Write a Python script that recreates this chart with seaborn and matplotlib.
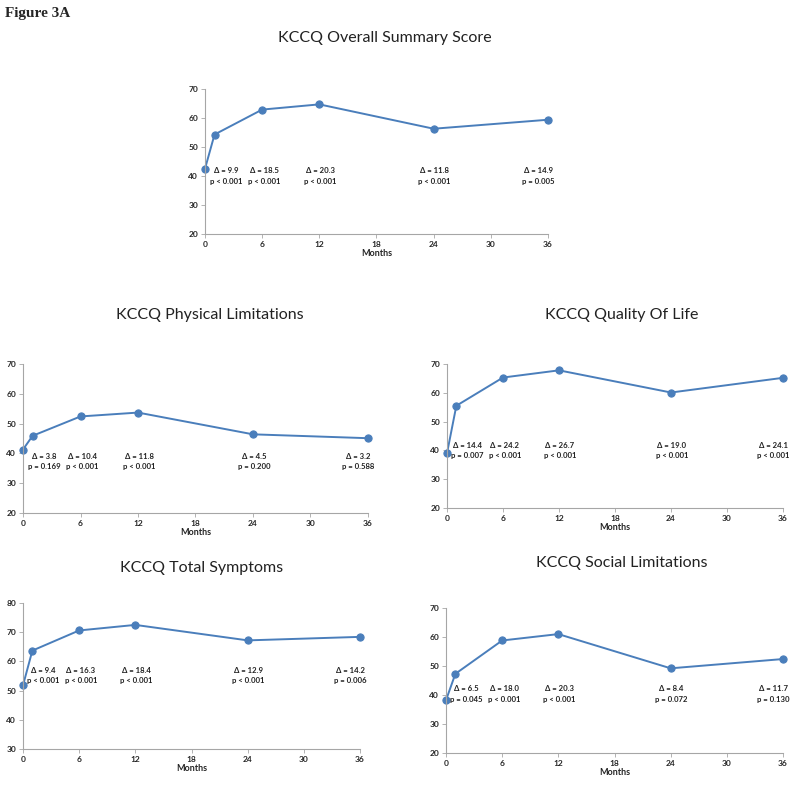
import matplotlib
matplotlib.use("Agg")
import matplotlib.pyplot as plt
import seaborn as sns
import pandas as pd

months = [0, 1, 6, 12, 24, 36]

titles = ["KCCQ Overall Summary Score", "KCCQ Physical Limitations",
          "KCCQ Quality Of Life", "KCCQ Total Symptoms", "KCCQ Social Limitations"]

overall = [42.5, 54.3, 62.9, 64.7, 56.3, 59.4]
physical = [41.3, 45.9, 52.4, 53.7, 46.4, 45.1]
qol = [39.0, 55.5, 65.3, 67.8, 60.1, 65.2]
symptoms = [51.8, 63.7, 70.6, 72.5, 67.2, 68.4]
social = [38.2, 47.3, 58.8, 61.0, 49.2, 52.4]

overall_delta = ["9.9", "18.5", "20.3", "11.8", "14.9"]
overall_p = ["p < 0.001", "p < 0.001", "p < 0.001", "p < 0.001", "p = 0.005"]
physical_delta = ["3.8", "10.4", "11.8", "4.5", "3.2"]
physical_p = ["p = 0.169", "p < 0.001", "p < 0.001", "p = 0.200", "p = 0.588"]
qol_delta = ["14.4", "24.2", "26.7", "19.0", "24.1"]
qol_p = ["p = 0.007", "p < 0.001", "p < 0.001", "p < 0.001", "p < 0.001"]
symptoms_delta = ["9.4", "16.3", "18.4", "12.9", "14.2"]
symptoms_p = ["p < 0.001", "p < 0.001", "p < 0.001", "p < 0.001", "p = 0.006"]
social_delta = ["6.5", "18.0", "20.3", "8.4", "11.7"]
social_p = ["p = 0.045", "p < 0.001", "p < 0.001", "p = 0.072", "p = 0.130"]

ylims = [(20, 70), (20, 70), (20, 70), (30, 80), (20, 70)]
xticks = [0, 6, 12, 18, 24, 30, 36]

sns.set_theme(style="white")
plt.rcParams['font.family'] = ['Lato', 'DejaVu Sans']

fig = plt.figure(figsize=(8, 7.88), dpi=100)

# axes rectangles in pixels: left, top, right, bottom
rects_px = [(205, 89, 548, 234), (23, 364, 368, 513), (447, 364, 783, 508),
            (23, 603, 360, 749), (446, 608, 783, 753)]
title_px = [(385, 38), (210, 315), (622, 315), (202, 568), (622, 563)]
ann_y = [41.8, 39.1, 41.8, 57.0, 42.1]

series = [overall, physical, qol, symptoms, social]
deltas = [overall_delta, physical_delta, qol_delta, symptoms_delta, social_delta]
pvals = [overall_p, physical_p, qol_p, symptoms_p, social_p]

W, H = 800, 788
blue = "#4A7EBB"
ann_x = [2.2, 6.2, 12.1, 24.1, 35.0]

for i in range(5):
    l, t, r, b = rects_px[i]
    ax = fig.add_axes([l / W, 1 - b / H, (r - l) / W, (b - t) / H])
    df = pd.DataFrame({"Months": months, "Score": series[i]})
    sns.lineplot(data=df, x="Months", y="Score", ax=ax, color=blue, marker="o",
                 markersize=5.2, markeredgecolor=blue, linewidth=1.4, clip_on=False)
    ax.set_xlim(0, 36)
    ax.set_ylim(*ylims[i])
    ax.set_xticks(xticks)
    ax.set_yticks(range(ylims[i][0], ylims[i][1] + 1, 10))
    ax.set_xlabel("Months", fontsize=6.5, fontweight="bold", labelpad=1)
    ax.set_ylabel("")
    for s in ["top", "right"]:
        ax.spines[s].set_visible(False)
    for s in ["left", "bottom"]:
        ax.spines[s].set_color("#A6A6A6")
        ax.spines[s].set_linewidth(0.8)
    ax.tick_params(axis="both", which="major", length=3, width=0.6, color="#A6A6A6",
                   labelsize=6, pad=2, direction="out", bottom=True, left=True)
    for lab in ax.get_xticklabels() + ax.get_yticklabels():
        lab.set_fontweight("bold")
    for j in range(5):
        ax.text(ann_x[j], ann_y[i], "\u0394 = " + deltas[i][j], ha="center", va="center",
                fontsize=5.6, fontweight="bold", color="#222222")
        ax.annotate(pvals[i][j], xy=(ann_x[j], ann_y[i]), xytext=(0, -7.5),
                    textcoords="offset points", ha="center", va="center",
                    fontsize=5.6, fontweight="bold", color="#222222")
    fig.text(title_px[i][0] / W, 1 - title_px[i][1] / H, titles[i], ha="center", va="center",
             fontsize=11.5, color="#222222")

fig.text(5 / W, 1 - 13 / H, "Figure 3A", ha="left", va="center", fontsize=11,
         fontweight="bold", family=["Liberation Serif", "DejaVu Serif"])

fig.savefig("out.png", dpi=100)
